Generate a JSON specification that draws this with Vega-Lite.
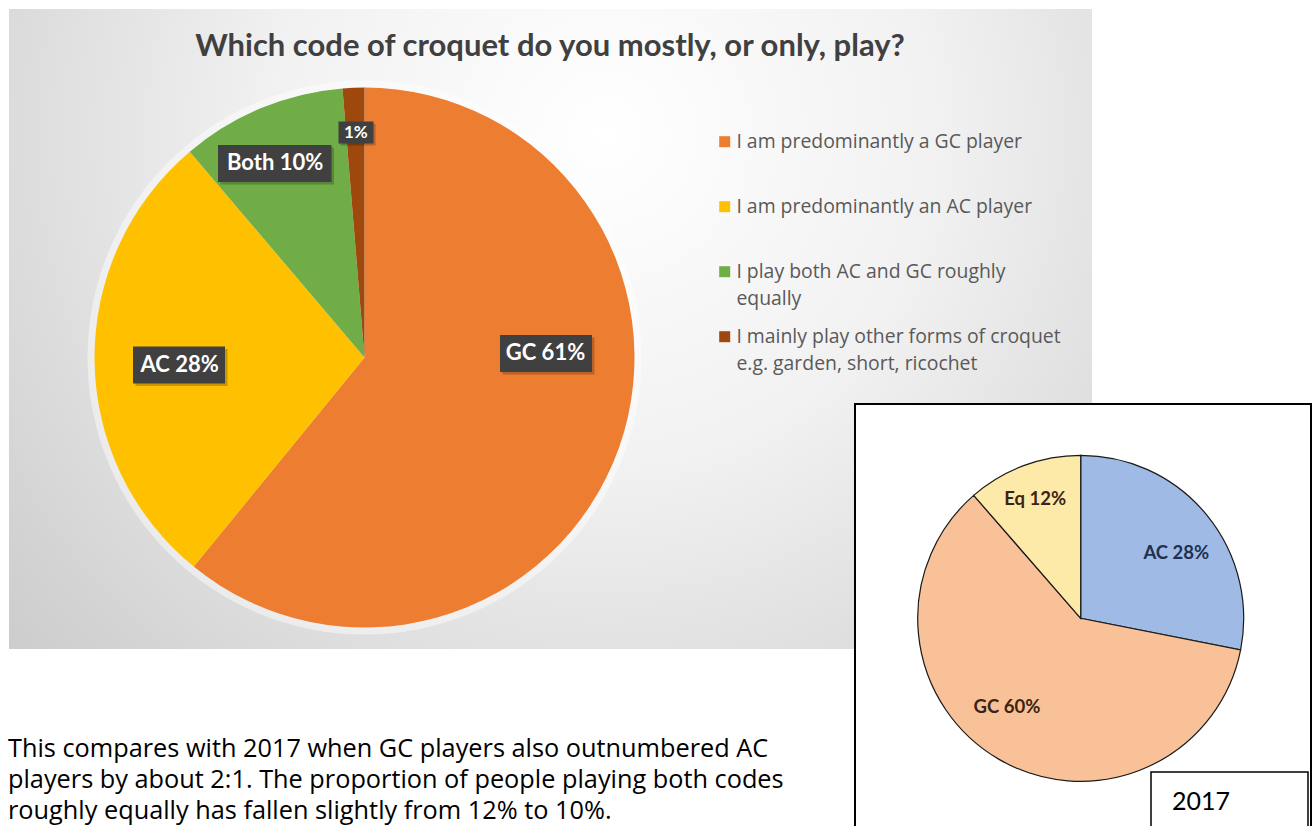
{
  "$schema": "https://vega.github.io/schema/vega-lite/v6.json",
  "width": 1316,
  "height": 826,
  "autosize": {"type": "none"},
  "padding": 0,
  "background": "#ffffff",
  "config": {"view": {"stroke": null}, "style": {"guide-label": {"lineHeight": 27}}},
  "datasets": {
    "main": [
      {"code": "GC", "answer": "I am predominantly a GC player", "pct": 60.9, "label": "GC 61%"},
      {"code": "AC", "answer": "I am predominantly an AC player", "pct": 27.9, "label": "AC 28%"},
      {"code": "Both", "answer": "I play both AC and GC roughly equally", "pct": 9.9, "label": "Both 10%"},
      {"code": "Other", "answer": "I mainly play other forms of croquet e.g. garden, short, ricochet", "pct": 1.3, "label": "1%"}
    ],
    "y2017": [
      {"code": "AC", "pct": 28.1, "label": "AC 28%"},
      {"code": "GC", "pct": 60.5, "label": "GC 60%"},
      {"code": "Eq", "pct": 11.4, "label": "Eq 12%"}
    ]
  },
  "resolve": {"scale": {"color": "independent"}},
  "layer": [
    {
      "data": {"values": [{}]},
      "mark": {"type": "rect", "fill": {"gradient": "radial", "x1": 0.55, "y1": 0.32, "r1": 0, "x2": 0.55, "y2": 0.32, "r2": 0.78, "stops": [{"offset": 0, "color": "#ffffff"}, {"offset": 0.4, "color": "#f1f1f1"}, {"offset": 0.8, "color": "#d5d5d5"}, {"offset": 1, "color": "#c8c8c8"}]}},
      "encoding": {
        "x": {"datum": 9, "type": "quantitative", "scale": {"domain": [0, 1316], "nice": false, "zero": false}, "axis": null},
        "x2": {"datum": 1092},
        "y": {"datum": 9, "type": "quantitative", "scale": {"domain": [0, 826], "nice": false, "zero": false, "reverse": true}, "axis": null},
        "y2": {"datum": 649}
      }
    },
    {
      "data": {"values": [{}]},
      "mark": {"type": "arc", "outerRadius": 277, "theta": 0, "theta2": 6.2832, "fill": "#ffffff", "opacity": 0.45},
      "encoding": {
        "x": {"datum": 364.5, "type": "quantitative", "stack": null, "scale": {"domain": [0, 1316], "nice": false, "zero": false}, "axis": null},
        "y": {"datum": 357.5, "type": "quantitative", "stack": null, "scale": {"domain": [0, 826], "nice": false, "zero": false, "reverse": true}, "axis": null}
      }
    },
    {
      "data": {"name": "main"},
      "transform": [
        {"window": [{"op": "row_number", "as": "row"}]},
        {"stack": "pct", "groupby": [], "sort": [{"field": "row", "order": "ascending"}], "as": ["v0", "v1"]}
      ],
      "mark": {"type": "arc", "outerRadius": 270},
      "encoding": {
        "x": {"datum": 364.5, "type": "quantitative", "stack": null, "scale": {"domain": [0, 1316], "nice": false, "zero": false}, "axis": null},
        "y": {"datum": 357.5, "type": "quantitative", "stack": null, "scale": {"domain": [0, 826], "nice": false, "zero": false, "reverse": true}, "axis": null},
        "theta": {"field": "v0", "type": "quantitative", "scale": {"domain": [0, 100]}},
        "theta2": {"field": "v1"},
        "color": {
          "field": "answer", "type": "nominal",
          "scale": {"domain": ["I am predominantly a GC player", "I am predominantly an AC player", "I play both AC and GC roughly equally", "I mainly play other forms of croquet e.g. garden, short, ricochet"], "range": ["#ed7d31", "#ffc000", "#70ad47", "#9e480e"]},
          "legend": {
            "orient": "none", "legendX": 715, "legendY": 132, "title": null, "padding": 0,
            "symbolType": "square", "symbolSize": 121, "symbolStrokeWidth": 0,
            "labelFont": "Open Sans", "labelFontSize": 19.4, "labelColor": "#595959", "labelOffset": 2, "labelLimit": 500,
            "rowPadding": 17,
            "labelExpr": "datum.label === 'I play both AC and GC roughly equally' ? ['I play both AC and GC roughly', 'equally'] : datum.label === 'I mainly play other forms of croquet e.g. garden, short, ricochet' ? ['I mainly play other forms of croquet', 'e.g. garden, short, ricochet'] : [datum.label, '']"
          }
        }
      }
    },
    {
      "data": {"values": [{}]},
      "mark": {"type": "rect", "fill": "#000000", "opacity": 0.22},
      "encoding": {
        "x": {"datum": 502.5, "type": "quantitative", "scale": {"domain": [0, 1316], "nice": false, "zero": false}, "axis": null},
        "x2": {"datum": 594.5},
        "y": {"datum": 337.5, "type": "quantitative", "scale": {"domain": [0, 826], "nice": false, "zero": false, "reverse": true}, "axis": null},
        "y2": {"datum": 374.5}
      }
    },
    {
      "data": {"values": [{}]},
      "mark": {"type": "rect", "fill": "#404040"},
      "encoding": {
        "x": {"datum": 500, "type": "quantitative", "scale": {"domain": [0, 1316], "nice": false, "zero": false}, "axis": null},
        "x2": {"datum": 592},
        "y": {"datum": 335, "type": "quantitative", "scale": {"domain": [0, 826], "nice": false, "zero": false, "reverse": true}, "axis": null},
        "y2": {"datum": 372}
      }
    },
    {
      "data": {"values": [{}]},
      "mark": {"type": "rect", "fill": "#000000", "opacity": 0.22},
      "encoding": {
        "x": {"datum": 135.5, "type": "quantitative", "scale": {"domain": [0, 1316], "nice": false, "zero": false}, "axis": null},
        "x2": {"datum": 227.5},
        "y": {"datum": 349, "type": "quantitative", "scale": {"domain": [0, 826], "nice": false, "zero": false, "reverse": true}, "axis": null},
        "y2": {"datum": 386}
      }
    },
    {
      "data": {"values": [{}]},
      "mark": {"type": "rect", "fill": "#404040"},
      "encoding": {
        "x": {"datum": 133, "type": "quantitative", "scale": {"domain": [0, 1316], "nice": false, "zero": false}, "axis": null},
        "x2": {"datum": 225},
        "y": {"datum": 346.5, "type": "quantitative", "scale": {"domain": [0, 826], "nice": false, "zero": false, "reverse": true}, "axis": null},
        "y2": {"datum": 383.5}
      }
    },
    {
      "data": {"values": [{}]},
      "mark": {"type": "rect", "fill": "#000000", "opacity": 0.22},
      "encoding": {
        "x": {"datum": 220.5, "type": "quantitative", "scale": {"domain": [0, 1316], "nice": false, "zero": false}, "axis": null},
        "x2": {"datum": 334},
        "y": {"datum": 147.5, "type": "quantitative", "scale": {"domain": [0, 826], "nice": false, "zero": false, "reverse": true}, "axis": null},
        "y2": {"datum": 184.5}
      }
    },
    {
      "data": {"values": [{}]},
      "mark": {"type": "rect", "fill": "#404040"},
      "encoding": {
        "x": {"datum": 218, "type": "quantitative", "scale": {"domain": [0, 1316], "nice": false, "zero": false}, "axis": null},
        "x2": {"datum": 331.5},
        "y": {"datum": 145, "type": "quantitative", "scale": {"domain": [0, 826], "nice": false, "zero": false, "reverse": true}, "axis": null},
        "y2": {"datum": 182}
      }
    },
    {
      "data": {"values": [{}]},
      "mark": {"type": "rect", "fill": "#000000", "opacity": 0.22},
      "encoding": {
        "x": {"datum": 340.5, "type": "quantitative", "scale": {"domain": [0, 1316], "nice": false, "zero": false}, "axis": null},
        "x2": {"datum": 375.5},
        "y": {"datum": 124, "type": "quantitative", "scale": {"domain": [0, 826], "nice": false, "zero": false, "reverse": true}, "axis": null},
        "y2": {"datum": 145.5}
      }
    },
    {
      "data": {"values": [{}]},
      "mark": {"type": "rect", "fill": "#404040"},
      "encoding": {
        "x": {"datum": 338.5, "type": "quantitative", "scale": {"domain": [0, 1316], "nice": false, "zero": false}, "axis": null},
        "x2": {"datum": 373.5},
        "y": {"datum": 121.5, "type": "quantitative", "scale": {"domain": [0, 826], "nice": false, "zero": false, "reverse": true}, "axis": null},
        "y2": {"datum": 143.5}
      }
    },
    {
      "data": {"name": "main"},
      "transform": [
        {"window": [{"op": "row_number", "as": "row"}]},
        {"stack": "pct", "groupby": [], "sort": [{"field": "row", "order": "ascending"}], "as": ["v0", "v1"]}
      ],
      "encoding": {
        "x": {"datum": 364.5, "type": "quantitative", "stack": null, "scale": {"domain": [0, 1316], "nice": false, "zero": false}, "axis": null},
        "y": {"datum": 357.5, "type": "quantitative", "stack": null, "scale": {"domain": [0, 826], "nice": false, "zero": false, "reverse": true}, "axis": null},
        "theta": {"field": "v0", "type": "quantitative", "scale": {"domain": [0, 100]}}
      },
      "layer": [
        {"mark": {"type": "text", "font": "Lato", "fontWeight": "bold", "fontSize": 22, "align": "center", "baseline": "middle", "fill": "#ffffff", "radius": 181, "thetaOffset": 1.548},
         "encoding": {"text": {"condition": {"test": "datum.code === 'GC'", "field": "label", "type": "nominal"}, "value": ""}}},
        {"mark": {"type": "text", "font": "Lato", "fontWeight": "bold", "fontSize": 22, "align": "center", "baseline": "middle", "fill": "#ffffff", "radius": 185, "thetaOffset": 0.8458},
         "encoding": {"text": {"condition": {"test": "datum.code === 'AC'", "field": "label", "type": "nominal"}, "value": ""}}},
        {"mark": {"type": "text", "font": "Lato", "fontWeight": "bold", "fontSize": 22, "align": "center", "baseline": "middle", "fill": "#ffffff", "radius": 214, "thetaOffset": 0.2726},
         "encoding": {"text": {"condition": {"test": "datum.code === 'Both'", "field": "label", "type": "nominal"}, "value": ""}}},
        {"mark": {"type": "text", "font": "Lato", "fontWeight": "bold", "fontSize": 17, "align": "center", "baseline": "middle", "fill": "#ffffff", "radius": 225, "thetaOffset": 0.0433},
         "encoding": {"text": {"condition": {"test": "datum.code === 'Other'", "field": "label", "type": "nominal"}, "value": ""}}}
      ]
    },
    {
      "data": {"values": [{"title": "Which code of croquet do you mostly, or only, play?"}]},
      "mark": {"type": "text", "font": "Lato", "fontWeight": "bold", "fontSize": 31, "fill": "#404040", "align": "center", "baseline": "alphabetic"},
      "encoding": {
        "x": {"datum": 550, "type": "quantitative", "scale": {"domain": [0, 1316], "nice": false, "zero": false}, "axis": null},
        "y": {"datum": 56, "type": "quantitative", "scale": {"domain": [0, 826], "nice": false, "zero": false, "reverse": true}, "axis": null},
        "text": {"field": "title"}
      }
    },
    {
      "data": {"values": [{}]},
      "mark": {"type": "rect", "fill": "#ffffff", "stroke": "#000000", "strokeWidth": 2},
      "encoding": {
        "x": {"datum": 855, "type": "quantitative", "scale": {"domain": [0, 1316], "nice": false, "zero": false}, "axis": null},
        "x2": {"datum": 1311},
        "y": {"datum": 404, "type": "quantitative", "scale": {"domain": [0, 826], "nice": false, "zero": false, "reverse": true}, "axis": null},
        "y2": {"datum": 845}
      }
    },
    {
      "data": {"name": "y2017"},
      "transform": [
        {"window": [{"op": "row_number", "as": "row"}]},
        {"stack": "pct", "groupby": [], "sort": [{"field": "row", "order": "ascending"}], "as": ["v0", "v1"]}
      ],
      "encoding": {
        "x": {"datum": 1080.7, "type": "quantitative", "stack": null, "scale": {"domain": [0, 1316], "nice": false, "zero": false}, "axis": null},
        "y": {"datum": 618.3, "type": "quantitative", "stack": null, "scale": {"domain": [0, 826], "nice": false, "zero": false, "reverse": true}, "axis": null},
        "theta": {"field": "v0", "type": "quantitative", "scale": {"domain": [0, 100]}}
      },
      "layer": [
        {
          "mark": {"type": "arc", "outerRadius": 163, "stroke": "#1a1a1a", "strokeWidth": 1.2},
          "encoding": {
            "theta2": {"field": "v1"},
            "color": {"field": "code", "type": "nominal", "scale": {"domain": ["AC", "GC", "Eq"], "range": ["#9fbbe5", "#f8c197", "#fde9a8"]}, "legend": null}
          }
        },
        {"mark": {"type": "text", "font": "Lato", "fontWeight": "bold", "fontSize": 18.5, "align": "center", "baseline": "middle", "fill": "#1f3050", "radius": 116, "thetaOffset": 0.9687},
         "encoding": {"text": {"condition": {"test": "datum.code === 'AC'", "field": "label", "type": "nominal"}, "value": ""}}},
        {"mark": {"type": "text", "font": "Lato", "fontWeight": "bold", "fontSize": 18.5, "align": "center", "baseline": "middle", "fill": "#3b2416", "radius": 115, "thetaOffset": 2.0724},
         "encoding": {"text": {"condition": {"test": "datum.code === 'GC'", "field": "label", "type": "nominal"}, "value": ""}}},
        {"mark": {"type": "text", "font": "Lato", "fontWeight": "bold", "fontSize": 18.5, "align": "center", "baseline": "middle", "fill": "#3b2416", "radius": 128, "thetaOffset": 0.3524},
         "encoding": {"text": {"condition": {"test": "datum.code === 'Eq'", "field": "label", "type": "nominal"}, "value": ""}}}
      ]
    },
    {
      "data": {"values": [{}]},
      "mark": {"type": "rect", "fill": "#ffffff", "stroke": "#000000", "strokeWidth": 1.5},
      "encoding": {
        "x": {"datum": 1151, "type": "quantitative", "scale": {"domain": [0, 1316], "nice": false, "zero": false}, "axis": null},
        "x2": {"datum": 1308},
        "y": {"datum": 772, "type": "quantitative", "scale": {"domain": [0, 826], "nice": false, "zero": false, "reverse": true}, "axis": null},
        "y2": {"datum": 845}
      }
    },
    {
      "data": {"values": [{"year": "2017"}]},
      "mark": {"type": "text", "font": "Lato", "fontSize": 25, "fill": "#000000", "align": "left", "baseline": "alphabetic"},
      "encoding": {
        "x": {"datum": 1172, "type": "quantitative", "scale": {"domain": [0, 1316], "nice": false, "zero": false}, "axis": null},
        "y": {"datum": 810, "type": "quantitative", "scale": {"domain": [0, 826], "nice": false, "zero": false, "reverse": true}, "axis": null},
        "text": {"field": "year"}
      }
    },
    {
      "data": {"values": [{"note": "This compares with 2017 when GC players also outnumbered AC\nplayers by about 2:1. The proportion of people playing both codes\nroughly equally has fallen slightly from 12% to 10%."}]},
      "mark": {"type": "text", "font": "Open Sans", "fontSize": 25.3, "lineHeight": 31, "lineBreak": "\n", "fill": "#000000", "align": "left", "baseline": "alphabetic"},
      "encoding": {
        "x": {"datum": 8, "type": "quantitative", "scale": {"domain": [0, 1316], "nice": false, "zero": false}, "axis": null},
        "y": {"datum": 757, "type": "quantitative", "scale": {"domain": [0, 826], "nice": false, "zero": false, "reverse": true}, "axis": null},
        "text": {"field": "note"}
      }
    }
  ]
}
